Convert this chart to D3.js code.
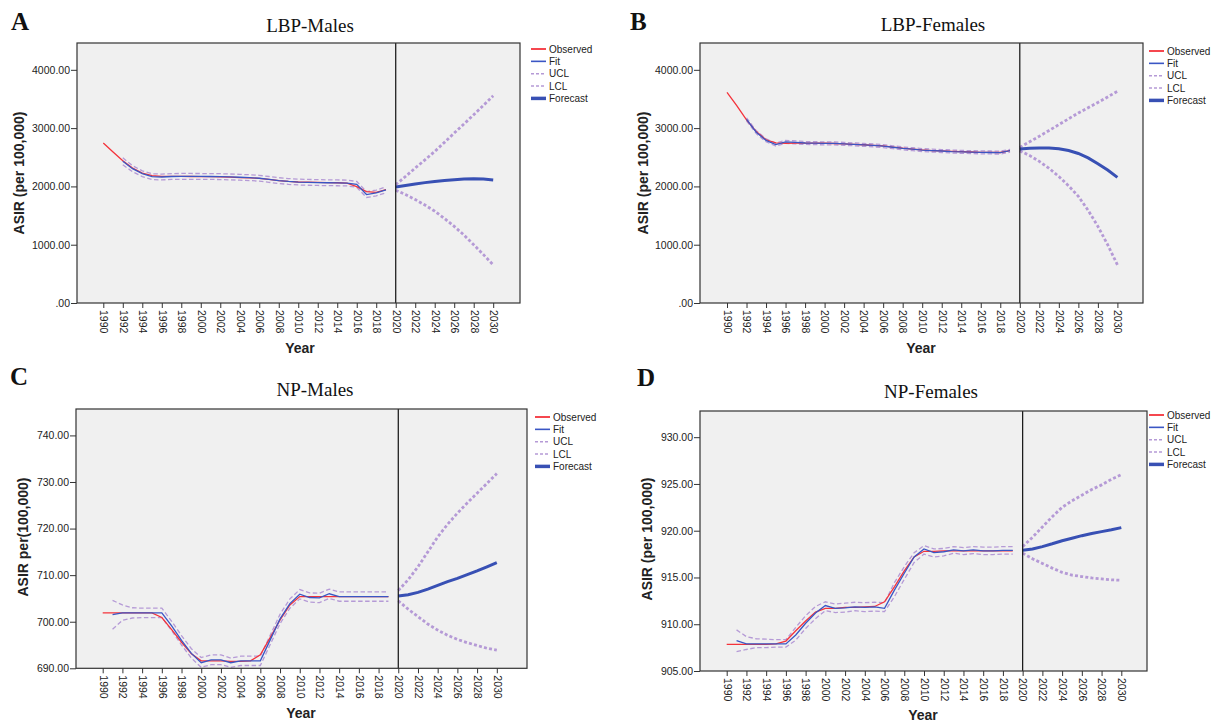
<!DOCTYPE html>
<html>
<head>
<meta charset="utf-8">
<script src="https://cdn.jsdelivr.net/npm/d3@7"></script>
<style>
  body { margin: 0; background: #fff; }
  svg { display: block; }
  text { font-family: "Liberation Sans", Arial, sans-serif; fill: #222; }
  .serif { font-family: "Liberation Serif", "Times New Roman", serif; fill: #111; }
</style>
</head>
<body>
<div id="chart"></div>
<script>
// years
const obsYears = [1990, 1991, 1992, 1993, 1994, 1995, 1996, 1997, 1998, 1999, 2000, 2001, 2002, 2003, 2004,
  2005, 2006, 2007, 2008, 2009, 2010, 2011, 2012, 2013, 2014, 2015, 2016, 2017, 2018, 2019];
const fcYears = [2020, 2021, 2022, 2023, 2024, 2025, 2026, 2027, 2028, 2029, 2030];
const tickYears = [1990, 1992, 1994, 1996, 1998, 2000, 2002, 2004, 2006, 2008, 2010, 2012, 2014, 2016, 2018,
  2020, 2022, 2024, 2026, 2028, 2030];
const legendLabels = ["Observed", "Fit", "UCL", "LCL", "Forecast"];

// A: LBP-Males (fit / limits start 1992)
const obsA = [2744, 2590, 2441, 2315, 2228, 2185, 2172, 2172, 2171, 2170, 2169, 2167, 2164, 2158, 2152,
  2146, 2138, 2120, 2100, 2086, 2076, 2072, 2069, 2066, 2063, 2055, 1995, 1910, 1897, 1945];
const fitA = [2430, 2304, 2218, 2167, 2161, 2170, 2172, 2172, 2171, 2170, 2168, 2163, 2157, 2150, 2140,
  2120, 2099, 2085, 2075, 2070, 2066, 2063, 2061, 2058, 2035, 1860, 1888, 1942];
const uclA = [2490, 2355, 2268, 2217, 2211, 2220, 2222, 2222, 2221, 2220, 2218, 2213, 2207, 2200, 2190,
  2170, 2149, 2135, 2125, 2120, 2116, 2113, 2111, 2108, 2085, 1910, 1938, 1992];
const lclA = [2370, 2253, 2168, 2117, 2111, 2120, 2122, 2122, 2121, 2120, 2118, 2113, 2107, 2100, 2090,
  2070, 2049, 2035, 2025, 2020, 2016, 2013, 2011, 2008, 1985, 1810, 1838, 1892];
const fcA = [1990, 2017, 2041, 2065, 2086, 2102, 2115, 2125, 2130, 2125, 2110];
const fcUclA = [2030, 2170, 2315, 2455, 2600, 2755, 2915, 3070, 3230, 3390, 3555];
const fcLclA = [1935, 1860, 1775, 1680, 1575, 1450, 1315, 1165, 1000, 830, 655];

// B: LBP-Females (fit / limits start 1992)
const obsB = [3615, 3385, 3140, 2940, 2800, 2745, 2740, 2742, 2742, 2742, 2740, 2736, 2730, 2722, 2715,
  2705, 2695, 2675, 2655, 2640, 2625, 2615, 2608, 2600, 2595, 2590, 2585, 2583, 2582, 2612];
const fitB = [3150, 2930, 2790, 2718, 2765, 2755, 2745, 2742, 2738, 2738, 2730, 2722, 2712, 2705, 2690,
  2672, 2652, 2638, 2623, 2615, 2607, 2598, 2593, 2588, 2584, 2582, 2580, 2612];
const uclB = [3175, 2955, 2815, 2743, 2790, 2780, 2770, 2767, 2763, 2763, 2755, 2747, 2737, 2730, 2715,
  2697, 2677, 2663, 2648, 2640, 2632, 2623, 2618, 2613, 2609, 2607, 2605, 2637];
const lclB = [3125, 2905, 2765, 2693, 2740, 2730, 2720, 2717, 2713, 2713, 2705, 2697, 2687, 2680, 2665,
  2647, 2627, 2613, 2598, 2590, 2582, 2573, 2568, 2563, 2559, 2557, 2555, 2587];
const fcB = [2640, 2655, 2660, 2657, 2645, 2615, 2565, 2490, 2390, 2280, 2155];
const fcUclB = [2670, 2765, 2860, 2960, 3060, 3160, 3260, 3350, 3440, 3535, 3630];
const fcLclB = [2610, 2530, 2430, 2310, 2170, 2010, 1830, 1590, 1315, 1000, 655];

// C: NP-Males (fit / limits start 1991)
const obsC = [701.9, 701.9, 701.9, 701.9, 701.9, 701.9, 700.9, 698.3, 695.6, 693.1, 691.6, 691.6, 691.6,
  691.5, 691.5, 691.6, 692.9, 696.6, 700.4, 703.6, 705.4, 705.4, 705.4, 705.4, 705.4, 705.4, 705.4, 705.4,
  705.4, 705.4];
const fitC = [701.5, 701.9, 701.9, 701.9, 701.9, 701.9, 699.1, 696.0, 693.2, 691.2, 691.8, 691.8, 691.2,
  691.6, 691.6, 691.6, 696.1, 700.6, 703.9, 705.9, 705.2, 705.1, 706.0, 705.4, 705.4, 705.4, 705.4, 705.4,
  705.4];
const uclC = [704.6, 703.6, 703.0, 702.9, 702.9, 702.9, 700.1, 697.0, 694.2, 692.3, 692.9, 692.9, 692.2,
  692.6, 692.6, 692.6, 697.1, 701.6, 704.9, 706.9, 706.2, 706.1, 707.0, 706.4, 706.4, 706.4, 706.4, 706.4,
  706.4];
const lclC = [698.4, 700.3, 700.8, 700.9, 700.9, 700.9, 698.1, 695.0, 692.2, 690.2, 690.8, 690.8, 690.2,
  690.6, 690.6, 690.6, 695.1, 699.6, 702.9, 704.9, 704.2, 704.1, 705.0, 704.4, 704.4, 704.4, 704.4, 704.4,
  704.4];
const fcC = [705.5, 705.8, 706.3, 707.0, 707.8, 708.6, 709.3, 710.1, 710.9, 711.8, 712.7];
const fcUclC = [706.7, 709.0, 711.8, 715.0, 718.2, 720.9, 723.3, 725.5, 727.6, 729.7, 731.8];
const fcLclC = [704.5, 702.7, 701.1, 699.5, 698.2, 697.1, 696.2, 695.5, 694.9, 694.3, 693.9];

// D: NP-Females (fit / limits start 1991)
const obsD = [907.85, 907.85, 907.85, 907.85, 907.85, 907.9, 908.2, 909.3, 910.35, 911.3, 911.7, 911.7,
  911.8, 911.8, 911.85, 911.9, 912.4, 914.0, 915.7, 917.2, 917.8, 917.8, 917.85, 917.85, 917.85, 917.85,
  917.85, 917.85, 917.85, 917.85];
const fitD = [908.24, 907.9, 907.9, 907.9, 907.9, 907.9, 908.85, 910.1, 911.2, 912.0, 911.7, 911.75,
  911.85, 911.8, 911.85, 911.7, 913.65, 915.45, 917.2, 918.05, 917.65, 917.75, 917.95, 917.85, 917.95,
  917.85, 917.85, 917.9, 917.9];
const uclD = [909.4, 908.67, 908.45, 908.4, 908.35, 908.35, 909.67, 910.9, 911.9, 912.4, 912.17, 912.25,
  912.35, 912.3, 912.35, 912.3, 914.45, 916.15, 917.65, 918.4, 918.05, 918.1, 918.3, 918.2, 918.3, 918.25,
  918.25, 918.3, 918.3];
const lclD = [907.07, 907.3, 907.5, 907.5, 907.55, 907.55, 908.3, 909.55, 910.6, 911.45, 911.25, 911.3,
  911.45, 911.35, 911.4, 911.35, 912.95, 914.8, 916.6, 917.5, 917.2, 917.3, 917.6, 917.45, 917.55, 917.45,
  917.45, 917.5, 917.5];
const fcD = [917.9, 918.05, 918.3, 918.6, 918.93, 919.2, 919.47, 919.7, 919.9, 920.1, 920.33];
const fcUclD = [918.3, 919.3, 920.4, 921.5, 922.5, 923.2, 923.8, 924.4, 924.9, 925.5, 926.0];
const fcLclD = [917.6, 917.0, 916.5, 916.0, 915.55, 915.25, 915.1, 914.95, 914.85, 914.75, 914.7];

const yTicksLBP = [0, 1000, 2000, 3000, 4000];
const yTicksNPM = [690, 700, 710, 720, 730, 740];
const yTicksNPF = [905, 910, 915, 920, 925, 930];

const colors = { obs: "#f4333b", fit: "#3a56c4", ci: "#b59ad6", fc: "#3850b4" };

// panel layout (pixel boxes)
const panels = [
  { letter: "A", title: "LBP-Males", yLabel: "ASIR (per 100,000)",
    box: { l: 77, t: 43, r: 520, b: 303 }, xr: [103.3, 493.2], yDomain: [0, 4460], yTicks: yTicksLBP,
    obs: obsA, fit: fitA, ucl: uclA, lcl: lclA, fitStart: 1992, fc: fcA, fcUcl: fcUclA, fcLcl: fcLclA,
    letterPos: [11, 30], titlePos: [310, 32], yLabPos: [19, 173], xLabPos: [300, 353], legend: [531, 49] },
  { letter: "B", title: "LBP-Females", yLabel: "ASIR (per 100,000)",
    box: { l: 700, t: 43, r: 1143, b: 303 }, xr: [727, 1117.4], yDomain: [0, 4460], yTicks: yTicksLBP,
    obs: obsB, fit: fitB, ucl: uclB, lcl: lclB, fitStart: 1992, fc: fcB, fcUcl: fcUclB, fcLcl: fcLclB,
    letterPos: [630, 30], titlePos: [933, 31], yLabPos: [643, 173], xLabPos: [921, 353], legend: [1149, 51] },
  { letter: "C", title: "NP-Males", yLabel: "ASIR per(100,000)",
    box: { l: 76, t: 409, r: 527, b: 668.3 }, xr: [102.7, 496.8], yDomain: [690, 745.67], yTicks: yTicksNPM,
    obs: obsC, fit: fitC, ucl: uclC, lcl: lclC, fitStart: 1991, fc: fcC, fcUcl: fcUclC, fcLcl: fcLclC,
    letterPos: [10, 385], titlePos: [315, 396], yLabPos: [23, 537], xLabPos: [301, 718], legend: [535, 417] },
  { letter: "D", title: "NP-Females", yLabel: "ASIR (per 100,000)",
    box: { l: 700, t: 411, r: 1147, b: 671 }, xr: [726.7, 1121.3], yDomain: [905, 932.8], yTicks: yTicksNPF,
    obs: obsD, fit: fitD, ucl: uclD, lcl: lclD, fitStart: 1991, fc: fcD, fcUcl: fcUclD, fcLcl: fcLclD,
    letterPos: [637, 386], titlePos: [931, 398], yLabPos: [647, 539], xLabPos: [923, 720], legend: [1149, 415] },
];

const svg = d3.select("#chart").append("svg").attr("width", 1214).attr("height", 722);

panels.forEach((p, i) => drawPanel(p, i));

function drawPanel(p, i) {
  const g = svg.append("g");
  const { l, t, r, b } = p.box;

  const x = d3.scaleLinear().domain([1990, 2030]).range(p.xr);
  const y = d3.scaleLinear().domain(p.yDomain).range([b, t]);

  // plot background
  g.append("rect").attr("x", l).attr("y", t).attr("width", r - l).attr("height", b - t)
    .attr("fill", "#f0f0f0");

  const clipId = "clip" + i;
  g.append("clipPath").attr("id", clipId).append("rect")
    .attr("x", l).attr("y", t).attr("width", r - l).attr("height", b - t);
  const plot = g.append("g").attr("clip-path", `url(#${clipId})`);

  const line = d3.line().x((d) => x(d[0])).y((d) => y(d[1]));
  const fitYears = obsYears.filter((yr) => yr >= p.fitStart);
  const pairs = (yrs, vals) => yrs.map((yr, k) => [yr, vals[k]]);

  // historical limits (thin dashes)
  [p.ucl, p.lcl].forEach((vals) => {
    plot.append("path").datum(pairs(fitYears, vals)).attr("d", line)
      .attr("fill", "none").attr("stroke", colors.ci).attr("stroke-width", 1.3)
      .attr("stroke-dasharray", "4.5,2.5");
  });
  // forecast limits (heavy dots)
  [p.fcUcl, p.fcLcl].forEach((vals) => {
    plot.append("path").datum(pairs(fcYears, vals)).attr("d", line)
      .attr("fill", "none").attr("stroke", colors.ci).attr("stroke-width", 2.8)
      .attr("stroke-dasharray", "3,2.2");
  });

  plot.append("path").datum(pairs(obsYears, p.obs)).attr("d", line)
    .attr("fill", "none").attr("stroke", colors.obs).attr("stroke-width", 1.3);
  plot.append("path").datum(pairs(fitYears, p.fit)).attr("d", line)
    .attr("fill", "none").attr("stroke", colors.fit).attr("stroke-width", 1.3);
  plot.append("path").datum(pairs(fcYears, p.fc)).attr("d", line)
    .attr("fill", "none").attr("stroke", colors.fc).attr("stroke-width", 3);

  // forecast start reference line
  g.append("line").attr("x1", x(2020)).attr("x2", x(2020)).attr("y1", t).attr("y2", b)
    .attr("stroke", "#111").attr("stroke-width", 1.2);

  // frame
  g.append("rect").attr("x", l).attr("y", t).attr("width", r - l).attr("height", b - t)
    .attr("fill", "none").attr("stroke", "#333").attr("stroke-width", 1.2);

  // y axis
  const fmt = (d) => (d === 0 ? ".00" : d3.format(".2f")(d));
  const yAxis = g.append("g").attr("transform", `translate(${l},0)`)
    .call(d3.axisLeft(y).tickValues(p.yTicks).tickFormat(fmt).tickSize(6).tickPadding(1));
  yAxis.select(".domain").remove();
  yAxis.selectAll(".tick line").attr("stroke", "#333");
  yAxis.selectAll(".tick text").attr("font-size", 10.5).attr("fill", "#222")
    .style("font-family", "'Liberation Sans', Arial, sans-serif");

  // x axis with rotated year labels
  const xAxis = g.append("g").attr("transform", `translate(0,${b})`)
    .call(d3.axisBottom(x).tickValues(tickYears).tickFormat(d3.format("d")).tickSize(5));
  xAxis.select(".domain").remove();
  xAxis.selectAll(".tick line").attr("stroke", "#333");
  xAxis.selectAll(".tick text")
    .attr("font-size", 10.5).attr("fill", "#222")
    .style("font-family", "'Liberation Sans', Arial, sans-serif")
    .attr("text-anchor", "start")
    .attr("y", 0).attr("dy", "0.35em")
    .attr("transform", "translate(0,7) rotate(90)");

  // titles
  g.append("text").attr("class", "serif").attr("x", p.letterPos[0]).attr("y", p.letterPos[1])
    .attr("font-size", 25).attr("font-weight", "bold").text(p.letter);
  g.append("text").attr("class", "serif").attr("x", p.titlePos[0]).attr("y", p.titlePos[1])
    .attr("text-anchor", "middle").attr("font-size", 19).text(p.title);
  g.append("text")
    .attr("transform", `translate(${p.yLabPos[0]},${p.yLabPos[1]}) rotate(-90)`)
    .attr("text-anchor", "middle").attr("dominant-baseline", "central")
    .attr("font-size", 14).attr("font-weight", "bold").attr("fill", "#111").text(p.yLabel);
  g.append("text").attr("x", p.xLabPos[0]).attr("y", p.xLabPos[1])
    .attr("text-anchor", "middle").attr("font-size", 14).attr("font-weight", "bold")
    .attr("fill", "#111").text("Year");

  // legend
  const legendStyles = [
    { color: colors.obs, w: 1.8, dash: null },
    { color: colors.fit, w: 1.6, dash: null },
    { color: colors.ci, w: 1.6, dash: "3,2" },
    { color: colors.ci, w: 1.6, dash: "3,2" },
    { color: colors.fc, w: 3.5, dash: null },
  ];
  const lg = g.append("g").attr("transform", `translate(${p.legend[0]},${p.legend[1]})`);
  legendLabels.forEach((lab, k) => {
    const s = legendStyles[k];
    const row = lg.append("g").attr("transform", `translate(0,${k * 12.35})`);
    row.append("line").attr("x1", 0).attr("x2", 15).attr("y1", 0).attr("y2", 0)
      .attr("stroke", s.color).attr("stroke-width", s.w).attr("stroke-dasharray", s.dash);
    row.append("text").attr("x", 18).attr("y", 0).attr("dy", "0.35em")
      .attr("font-size", 10).text(lab);
  });
}
</script>
</body>
</html>
